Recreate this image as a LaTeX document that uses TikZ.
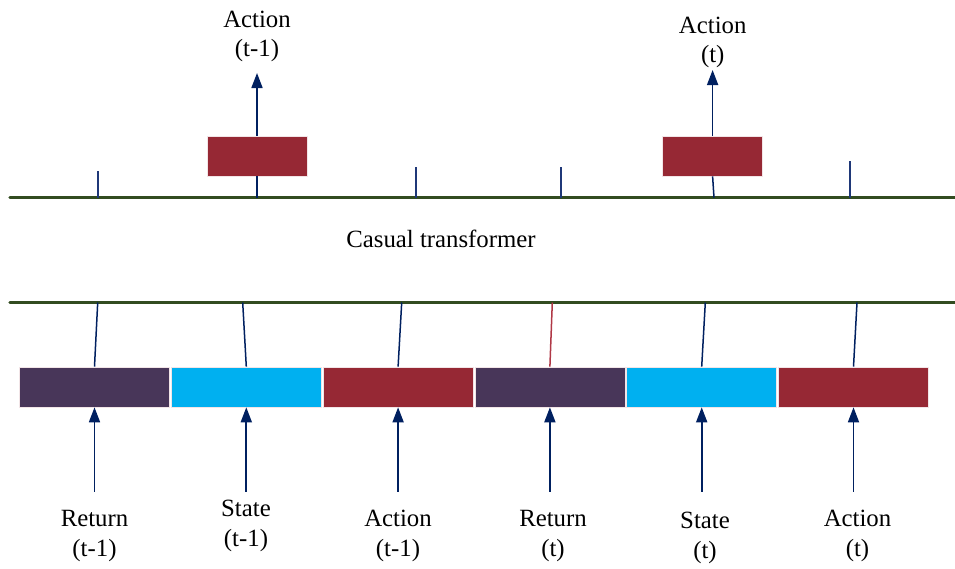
\documentclass[tikz,border=0pt]{standalone}
\usepackage{fontspec}
\setmainfont{Liberation Serif}
\usetikzlibrary{arrows.meta}
\definecolor{gline}{RGB}{50,76,32}
\definecolor{navy}{RGB}{0,32,96}
\definecolor{tickblue}{RGB}{31,56,120}
\definecolor{plum}{RGB}{72,54,89}
\definecolor{skyc}{RGB}{0,176,240}
\definecolor{wine}{RGB}{150,40,52}
\definecolor{redline}{RGB}{176,56,70}
\tikzset{
  greenline/.style={draw=gline,line width=3.4pt,line cap=round},
  tokbox/.style={minimum width=150pt,minimum height=40pt,inner sep=0pt,draw=white!88!wine,line width=0.6pt},
  outbox/.style={minimum width=100pt,minimum height=40pt,inner sep=0pt,fill=wine,draw=white!88!wine,line width=0.6pt},
  arr/.style={draw=navy,line width=1.7pt,-{Triangle[length=15pt,width=11pt]}},
  conn/.style={draw=navy,line width=1.5pt},
  tickmark/.style={draw=tickblue,line width=1.6pt},
  lbl/.style={align=center,inner sep=2pt,font=\fontsize{24.8}{29.5}\selectfont},
}
\begin{document}
\begin{tikzpicture}[x=1pt,y=-1pt]
\useasboundingbox (0,0) rectangle (955,568);
% green lines
\coordinate (ul) at (10,197.7);
\coordinate (ur) at (960,197.7);
\coordinate (ll) at (10,302.5);
\coordinate (lr) at (960,302.5);
\draw[greenline] (ul) -- (ur);
\draw[greenline] (ll) -- (lr);
% title
\node[lbl,anchor=base] (ct) at (441,247.7) {Casual transformer};
% ticks
\coordinate (k1) at (98,197.7);  \coordinate (k1t) at (98,171);
\coordinate (k2) at (416,197.7); \coordinate (k2t) at (416,167.3);
\coordinate (k3) at (560.7,197.7); \coordinate (k3t) at (560.7,167.3);
\coordinate (k4) at (849.7,197.7); \coordinate (k4t) at (849.7,160.7);
\draw[tickmark] (k1) -- (k1t);
\draw[tickmark] (k2) -- (k2t);
\draw[tickmark] (k3) -- (k3t);
\draw[tickmark] (k4) -- (k4t);
% output boxes
\node[outbox] (a1) at (257,156) {};
\node[outbox] (a2) at (712.6,156) {};
\coordinate (l1) at (257,197.7);
\coordinate (l2) at (714,197.7);
\coordinate (h1) at (257,73);
\coordinate (h2) at (712.6,70);
\draw[conn] (l1) -- (a1.south);
\draw[conn] (l2) -- (a2.south);
\draw[arr] (a1.north) -- (h1);
\draw[arr] (a2.north) -- (h2);
\node[lbl] (o1) at (257,36.5) {Action\\(t-1)};
\node[lbl] (o2) at (712.7,42.5) {Action\\(t)};
% token boxes
\node[tokbox,fill=plum] (b1) at (94.5,387) {};
\node[tokbox,fill=skyc] (b2) at (246.3,387) {};
\node[tokbox,fill=wine] (b3) at (398.1,387) {};
\node[tokbox,fill=plum] (b4) at (549.9,387) {};
\node[tokbox,fill=skyc] (b5) at (701.7,387) {};
\node[tokbox,fill=wine] (b6) at (853.5,387) {};
% connectors to transformer
\coordinate (g1) at (97.7,302.5);
\coordinate (g2) at (242.7,302.5);
\coordinate (g3) at (401.7,302.5);
\coordinate (g4) at (552.3,302.5);
\coordinate (g5) at (705.3,302.5);
\coordinate (g6) at (857,302.5);
\draw[conn] (b1.north) -- (g1);
\draw[conn] (b2.north) -- (g2);
\draw[conn] (b3.north) -- (g3);
\draw[conn,draw=redline] (b4.north) -- (g4);
\draw[conn] (b5.north) -- (g5);
\draw[conn] (b6.north) -- (g6);
% input arrows
\coordinate (t1) at (94.5,491.7);
\coordinate (t2) at (246.3,491.7);
\coordinate (t3) at (398.1,491.7);
\coordinate (t4) at (549.9,491.7);
\coordinate (t5) at (701.7,491.7);
\coordinate (t6) at (853.5,491.7);
\draw[arr] (t1) -- (b1.south);
\draw[arr] (t2) -- (b2.south);
\draw[arr] (t3) -- (b3.south);
\draw[arr] (t4) -- (b4.south);
\draw[arr] (t5) -- (b5.south);
\draw[arr] (t6) -- (b6.south);
% labels
\node[lbl] (r1) at (94.5,536) {Return\\(t-1)};
\node[lbl] (s1) at (246,526) {State\\(t-1)};
\node[lbl] (c1) at (398,536) {Action\\(t-1)};
\node[lbl] (r2) at (553,536) {Return\\(t)};
\node[lbl] (s2) at (705,538) {State\\(t)};
\node[lbl] (c2) at (857.5,536) {Action\\(t)};
\end{tikzpicture}
\end{document}
